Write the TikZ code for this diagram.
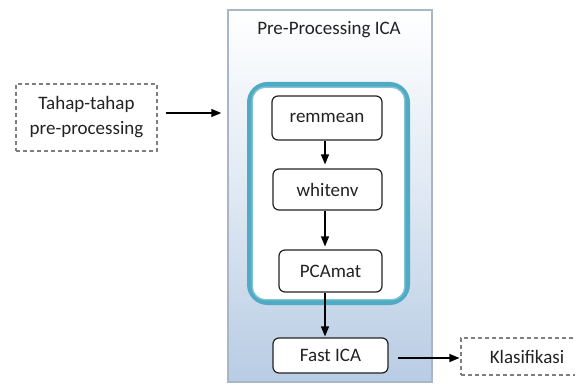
\documentclass[tikz,border=0pt]{standalone}
\usepackage{fontspec}
\setmainfont{Carlito}
\usetikzlibrary{arrows.meta,calc}
\definecolor{tealc}{HTML}{4FAAC3}
\definecolor{panelblue}{HTML}{B8CCE4}
\definecolor{panelborder}{HTML}{A9B6C6}
\definecolor{dashgrey}{HTML}{7F7F7F}
\definecolor{txt}{HTML}{222222}
\tikzset{
  stepbox/.style={draw=txt, line width=1.2pt, rounded corners=6pt, fill=white, align=center, inner sep=0pt, text=txt},
  dashbox/.style={draw=dashgrey, line width=1.1pt, dash pattern=on 4pt off 3pt, fill=white, align=center, inner sep=0pt, text=txt},
  conn/.style={draw=black, line width=1.2pt, -{Triangle[length=10pt,width=8pt]}},
}
\begin{document}
\begin{tikzpicture}[x=1pt,y=-1pt,font=\fontsize{19}{25}\selectfont]
\useasboundingbox (0,0) rectangle (575,385);
\clip (0,0) rectangle (575,385);
% panel
\node[draw=panelborder, line width=1.5pt, top color=white, bottom color=panelblue, middle color=white!55!panelblue, minimum width=204pt, minimum height=372pt, inner sep=0pt] (panel) at (330,196) {};
\node[text=txt] (title) at (329,30) {Pre-Processing ICA};
% teal frame
\node[draw=tealc, line width=5pt, rounded corners=18pt, fill=white, minimum width=158pt, minimum height=218pt, inner sep=0pt] (frame) at (328.5,193.5) {};
\draw[tealc!70, line width=1.3pt, rounded corners=13pt]
  ([shift={(5.25,5.25)}]frame.north west) rectangle ([shift={(-5.25,-5.25)}]frame.south east);
% steps
\node[stepbox, minimum width=110pt, minimum height=44pt] (remmean) at (327,118) {remmean};
\node[stepbox, minimum width=109pt, minimum height=41pt] (whitenv) at (327.5,189.5) {whitenv};
\node[stepbox, minimum width=103pt, minimum height=42pt] (pcamat) at (330.5,271) {PCAmat};
\node[stepbox, minimum width=115pt, minimum height=35pt] (fastica) at (330.5,355.5) {Fast ICA};
% outside boxes
\node[dashbox, minimum width=141pt, minimum height=67pt] (tahap) at (86.5,117.5) {Tahap-tahap\\pre-processing};
\node[dashbox, minimum width=132pt, minimum height=37pt] (klas) at (527,356.5) {Klasifikasi};
% connector coordinates
\coordinate (ax) at (325,0);
\coordinate (ay1) at (0,113);
\coordinate (ay2) at (0,358);
\draw[conn, shorten >=4pt] (remmean.south -| ax) -- (whitenv.north -| ax);
\draw[conn, shorten >=3pt] (whitenv.south -| ax) -- (pcamat.north -| ax);
\draw[conn, shorten >=1pt] (pcamat.south -| ax) -- (fastica.north -| ax);
\draw[conn, shorten <=8pt, shorten >=6pt] (tahap.east |- ay1) -- (panel.west |- ay1);
\draw[conn, shorten <=9pt, shorten >=1pt] (fastica.east |- ay2) -- (klas.west |- ay2);
\end{tikzpicture}
\end{document}
